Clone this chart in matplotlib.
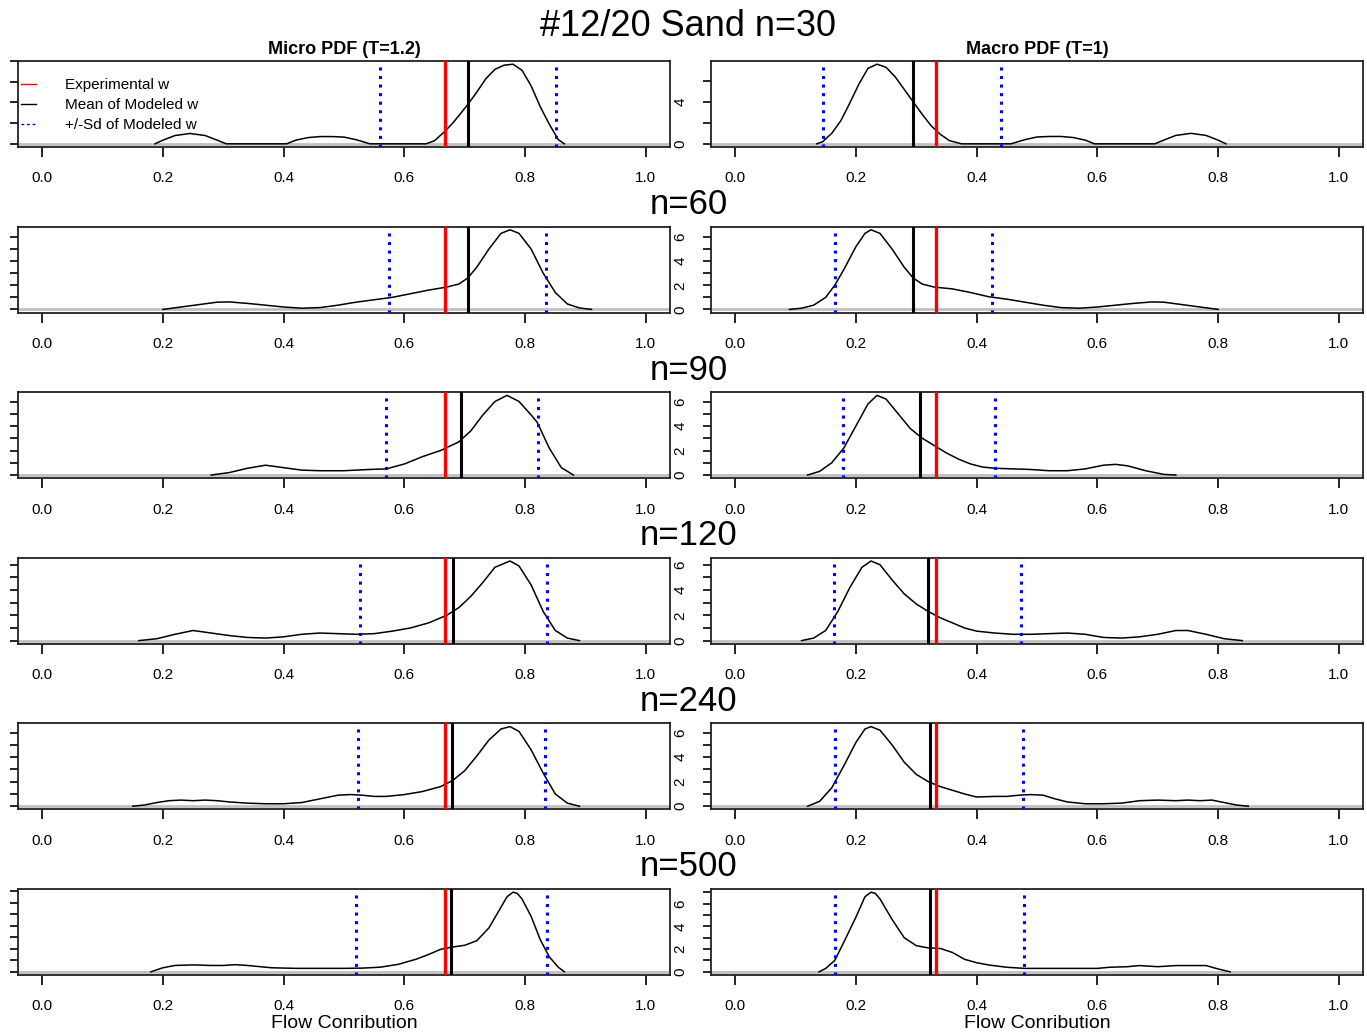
import matplotlib.pyplot as plt
from matplotlib.lines import Line2D

plt.rcParams['font.family'] = ['Liberation Sans', 'DejaVu Sans']

# ==================================
# Data
# ==================================

sample_sizes = [30, 60, 90, 120, 240, 500]

exp_micro = 0.667
exp_macro = 0.333

mean_micro = [0.706, 0.705, 0.693, 0.681, 0.679, 0.678]
sd_lo_micro = [0.560, 0.575, 0.570, 0.526, 0.523, 0.520]
sd_hi_micro = [0.851, 0.835, 0.821, 0.836, 0.833, 0.836]

mean_macro = [0.294, 0.295, 0.307, 0.320, 0.322, 0.322]
sd_lo_macro = [0.145, 0.165, 0.179, 0.164, 0.166, 0.165]
sd_hi_macro = [0.440, 0.425, 0.430, 0.474, 0.477, 0.479]

# density curves, micro (left column)
micro_x_30 = [0.187, 0.20, 0.22, 0.245, 0.27, 0.29, 0.305, 0.35, 0.405, 0.42, 0.44, 0.46, 0.48, 0.50,
              0.52, 0.543, 0.59, 0.636, 0.65, 0.667, 0.68, 0.69, 0.705, 0.72, 0.735, 0.75, 0.765,
              0.78, 0.795, 0.81, 0.825, 0.84, 0.855, 0.865]
micro_y_30 = [0.0, 0.35, 0.8, 1.0, 0.8, 0.35, 0.0, 0.0, 0.0, 0.35, 0.6, 0.7, 0.7, 0.65,
              0.4, 0.0, 0.0, 0.0, 0.3, 1.2, 2.0, 2.7, 3.8, 5.0, 6.3, 7.2, 7.6,
              7.7, 7.1, 5.6, 3.6, 1.9, 0.4, 0.0]

micro_x_60 = [0.20, 0.23, 0.26, 0.29, 0.31, 0.34, 0.37, 0.40, 0.43, 0.46, 0.49, 0.52, 0.55, 0.58,
              0.61, 0.64, 0.67, 0.69, 0.705, 0.72, 0.74, 0.76, 0.775, 0.79, 0.81, 0.83, 0.85,
              0.87, 0.89, 0.91]
micro_y_60 = [0.0, 0.2, 0.4, 0.6, 0.62, 0.5, 0.35, 0.2, 0.1, 0.15, 0.35, 0.6, 0.8, 1.0,
              1.3, 1.6, 1.85, 2.1, 2.6, 3.5, 5.0, 6.3, 6.6, 6.3, 5.0, 3.0, 1.4,
              0.45, 0.12, 0.0]

micro_x_90 = [0.28, 0.31, 0.34, 0.37, 0.40, 0.43, 0.46, 0.50, 0.54, 0.57, 0.60, 0.63, 0.66, 0.69,
              0.71, 0.73, 0.75, 0.77, 0.79, 0.81, 0.82, 0.84, 0.86, 0.88]
micro_y_90 = [0.0, 0.2, 0.55, 0.8, 0.6, 0.4, 0.35, 0.35, 0.45, 0.5, 0.9, 1.5, 2.0, 2.7,
              3.6, 4.9, 6.0, 6.5, 6.0, 4.9, 4.3, 2.2, 0.6, 0.0]

micro_x_120 = [0.16, 0.19, 0.22, 0.25, 0.28, 0.31, 0.34, 0.37, 0.40, 0.43, 0.46, 0.49, 0.52, 0.55,
               0.58, 0.61, 0.64, 0.67, 0.69, 0.71, 0.73, 0.75, 0.775, 0.79, 0.81, 0.83, 0.85,
               0.87, 0.89]
micro_y_120 = [0.0, 0.15, 0.5, 0.8, 0.6, 0.4, 0.25, 0.2, 0.3, 0.5, 0.6, 0.55, 0.5, 0.55,
               0.75, 1.0, 1.4, 2.0, 2.6, 3.5, 4.6, 5.8, 6.3, 5.9, 4.4, 2.3, 0.8,
               0.2, 0.0]

micro_x_240 = [0.15, 0.17, 0.19, 0.21, 0.23, 0.25, 0.27, 0.29, 0.31, 0.34, 0.37, 0.40, 0.43, 0.46,
               0.49, 0.51, 0.53, 0.55, 0.57, 0.60, 0.63, 0.66, 0.68, 0.70, 0.72, 0.74, 0.76,
               0.775, 0.79, 0.81, 0.83, 0.85, 0.87, 0.89]
micro_y_240 = [0.0, 0.1, 0.3, 0.45, 0.5, 0.45, 0.5, 0.45, 0.35, 0.25, 0.2, 0.2, 0.3, 0.6,
               0.9, 0.95, 0.9, 0.8, 0.8, 0.95, 1.2, 1.6, 2.1, 2.9, 4.1, 5.4, 6.3,
               6.5, 6.1, 4.6, 2.7, 1.0, 0.25, 0.0]

micro_x_500 = [0.18, 0.20, 0.22, 0.25, 0.28, 0.30, 0.32, 0.34, 0.36, 0.38, 0.42, 0.46, 0.50, 0.53,
               0.56, 0.59, 0.62, 0.64, 0.66, 0.68, 0.70, 0.72, 0.74, 0.76, 0.77, 0.78, 0.787,
               0.795, 0.81, 0.825, 0.84, 0.855, 0.865]
micro_y_500 = [0.0, 0.35, 0.55, 0.6, 0.55, 0.55, 0.62, 0.55, 0.45, 0.35, 0.3, 0.3, 0.3, 0.32,
               0.4, 0.65, 1.1, 1.5, 1.95, 2.15, 2.3, 2.7, 3.8, 5.6, 6.5, 6.9, 6.8,
               6.3, 4.8, 2.8, 1.3, 0.4, 0.0]

# density curves, macro (right column)
macro_x_30 = [0.135, 0.145, 0.16, 0.175, 0.19, 0.205, 0.22, 0.235, 0.25, 0.265, 0.28, 0.295, 0.31,
              0.325, 0.34, 0.355, 0.375, 0.41, 0.457, 0.48, 0.50, 0.52, 0.54, 0.56, 0.58, 0.595,
              0.65, 0.695, 0.71, 0.73, 0.755, 0.78, 0.80, 0.813]
macro_y_30 = [0.0, 0.2, 1.0, 2.2, 3.9, 5.7, 7.2, 7.6, 7.3, 6.4, 5.2, 4.0, 2.8,
              1.7, 0.9, 0.3, 0.0, 0.0, 0.0, 0.4, 0.65, 0.7, 0.7, 0.6, 0.35, 0.0,
              0.0, 0.0, 0.35, 0.8, 1.0, 0.8, 0.35, 0.0]

macro_x_60 = [0.09, 0.11, 0.13, 0.15, 0.165, 0.18, 0.20, 0.215, 0.225, 0.24, 0.26, 0.28, 0.295,
              0.31, 0.33, 0.36, 0.39, 0.42, 0.45, 0.48, 0.51, 0.54, 0.57, 0.60, 0.63, 0.66,
              0.69, 0.71, 0.74, 0.77, 0.80]
macro_y_60 = [0.0, 0.1, 0.35, 1.0, 2.0, 3.3, 5.2, 6.3, 6.6, 6.3, 5.0, 3.5, 2.6,
              2.1, 1.85, 1.7, 1.4, 1.05, 0.85, 0.6, 0.35, 0.15, 0.1, 0.2, 0.35, 0.5,
              0.62, 0.6, 0.4, 0.2, 0.0]

macro_x_90 = [0.12, 0.14, 0.16, 0.18, 0.20, 0.22, 0.235, 0.25, 0.27, 0.29, 0.31, 0.33, 0.35, 0.37,
              0.39, 0.41, 0.43, 0.46, 0.49, 0.52, 0.55, 0.58, 0.61, 0.63, 0.65, 0.68, 0.71, 0.73]
macro_y_90 = [0.0, 0.3, 1.0, 2.2, 4.0, 5.8, 6.5, 6.2, 5.0, 3.8, 3.0, 2.4, 1.8, 1.3,
              0.9, 0.65, 0.55, 0.5, 0.45, 0.35, 0.35, 0.5, 0.8, 0.87, 0.75, 0.35, 0.05, 0.0]

macro_x_120 = [0.11, 0.13, 0.15, 0.17, 0.19, 0.21, 0.225, 0.24, 0.26, 0.28, 0.30, 0.32, 0.34, 0.36,
               0.38, 0.40, 0.43, 0.46, 0.49, 0.52, 0.55, 0.58, 0.61, 0.64, 0.67, 0.70, 0.73,
               0.75, 0.78, 0.81, 0.84]
macro_y_120 = [0.0, 0.2, 0.8, 2.3, 4.2, 5.8, 6.3, 6.0, 4.8, 3.7, 2.9, 2.3, 1.8, 1.4,
               1.0, 0.75, 0.6, 0.5, 0.5, 0.55, 0.6, 0.5, 0.25, 0.2, 0.3, 0.5, 0.8,
               0.8, 0.5, 0.15, 0.0]

macro_x_240 = [0.12, 0.14, 0.16, 0.18, 0.20, 0.215, 0.225, 0.24, 0.26, 0.28, 0.30, 0.32, 0.34, 0.36,
               0.38, 0.40, 0.43, 0.45, 0.47, 0.49, 0.51, 0.53, 0.55, 0.58, 0.61, 0.64, 0.67,
               0.70, 0.73, 0.75, 0.77, 0.79, 0.81, 0.83, 0.85]
macro_y_240 = [0.0, 0.4, 1.5, 3.3, 5.2, 6.3, 6.5, 6.2, 5.0, 3.6, 2.6, 2.0, 1.6, 1.3,
               1.0, 0.75, 0.8, 0.8, 0.9, 0.95, 0.9, 0.6, 0.35, 0.2, 0.2, 0.25, 0.45,
               0.5, 0.45, 0.5, 0.45, 0.5, 0.3, 0.1, 0.0]

macro_x_500 = [0.139, 0.15, 0.165, 0.18, 0.20, 0.215, 0.225, 0.232, 0.24, 0.26, 0.28, 0.30, 0.32,
               0.34, 0.36, 0.38, 0.40, 0.42, 0.45, 0.48, 0.52, 0.56, 0.60, 0.62, 0.65, 0.67,
               0.70, 0.73, 0.76, 0.78, 0.80, 0.82]
macro_y_500 = [0.0, 0.3, 1.0, 2.6, 4.8, 6.6, 7.0, 6.9, 6.4, 4.6, 3.0, 2.3, 2.1,
               2.05, 1.7, 1.1, 0.8, 0.6, 0.4, 0.3, 0.3, 0.3, 0.3, 0.4, 0.45, 0.55,
               0.45, 0.55, 0.55, 0.55, 0.25, 0.0]

micro_x = [micro_x_30, micro_x_60, micro_x_90, micro_x_120, micro_x_240, micro_x_500]
micro_y = [micro_y_30, micro_y_60, micro_y_90, micro_y_120, micro_y_240, micro_y_500]
macro_x = [macro_x_30, macro_x_60, macro_x_90, macro_x_120, macro_x_240, macro_x_500]
macro_y = [macro_y_30, macro_y_60, macro_y_90, macro_y_120, macro_y_240, macro_y_500]

ytick_step = [2, 1, 1, 1, 1, 1]
xticks = [0.0, 0.2, 0.4, 0.6, 0.8, 1.0]

# ==================================
# Layout (pixels)
# ==================================

W, H = 1367, 1036
BOX_W, BOX_H = 652, 86
LEFTS = [18, 711]
ROW_TOP0, ROW_GAP = 61, 165.6

fig = plt.figure(figsize=(W / 100, H / 100), dpi=100)


def draw_panel(ax, x, y, exp_w, mean_w, lo, hi, step, show_ylabels):
    ymax = max(y)
    ax.axhline(0, color='#c0c0c0', lw=2, zorder=1)
    ax.plot(x, y, color='black', lw=1.1, zorder=3)
    ax.axvline(exp_w, color='#ff0000', lw=2.4, zorder=4)
    ax.axvline(mean_w, color='black', lw=2.2, zorder=4)
    for v in (lo, hi):
        ax.axvline(v, color='#0000ff', lw=2.2, ls=(0, (1, 1.8)), zorder=4)

    ax.set_xlim(-0.04, 1.04)
    ax.set_ylim(-0.04 * ymax, 1.04 * ymax)
    ax.set_xticks(xticks)
    ax.set_xticklabels([f"{t:.1f}" for t in xticks])

    yt = [k * step for k in range(int(1.04 * ymax / step) + 1)]
    ax.set_yticks(yt)
    if show_ylabels:
        if step == 2:
            labels = [str(int(t)) if t in (0, 4) else "" for t in yt]
        else:
            labels = [str(int(t)) if t % 2 == 0 else "" for t in yt]
        ax.set_yticklabels(labels, rotation=90, va='center')
    else:
        ax.set_yticklabels([])

    ax.tick_params(axis='x', direction='out', length=7.5, width=1.2, labelsize=11, pad=10)
    ax.tick_params(axis='y', direction='out', length=6, width=1.2, labelsize=11, pad=11)
    for s in ax.spines.values():
        s.set_linewidth(1.3)
        s.set_color('#222222')


for i, n in enumerate(sample_sizes):
    top = ROW_TOP0 + i * ROW_GAP
    ax_l = fig.add_axes([LEFTS[0] / W, 1 - (top + BOX_H) / H, BOX_W / W, BOX_H / H])
    ax_r = fig.add_axes([LEFTS[1] / W, 1 - (top + BOX_H) / H, BOX_W / W, BOX_H / H])

    draw_panel(ax_l, micro_x[i], micro_y[i], exp_micro, mean_micro[i],
               sd_lo_micro[i], sd_hi_micro[i], ytick_step[i], False)
    draw_panel(ax_r, macro_x[i], macro_y[i], exp_macro, mean_macro[i],
               sd_lo_macro[i], sd_hi_macro[i], ytick_step[i], True)

    if i == 0:
        fig.text(0.503, 1 - 27 / H, f"#12/20 Sand n={n}", ha='center', va='center', fontsize=26)
        fig.text((LEFTS[0] + BOX_W / 2) / W, 1 - 49 / H, "Micro PDF (T=1.2)",
                 ha='center', va='center', fontsize=13, fontweight='bold')
        fig.text((LEFTS[1] + BOX_W / 2) / W, 1 - 49 / H, "Macro PDF (T=1)",
                 ha='center', va='center', fontsize=13, fontweight='bold')
        handles = [Line2D([], [], color='#ff0000', lw=1),
                   Line2D([], [], color='black', lw=1),
                   Line2D([], [], color='#0000ff', lw=1, ls=(0, (2, 2)))]
        ax_l.legend(handles, ["Experimental w", "Mean of Modeled w", "+/-Sd of Modeled w"],
                    loc='upper left', bbox_to_anchor=(-0.005, 0.875), frameon=False,
                    fontsize=11, handlelength=1.0, handletextpad=1.9, labelspacing=0.4,
                    borderaxespad=0.0)
    else:
        fig.text(0.504, 1 - (top - 22) / H, f"n={n}", ha='center', va='center', fontsize=25)

    if i == len(sample_sizes) - 1:
        for left in LEFTS:
            fig.text((left + BOX_W / 2) / W, 1 - 1024 / H, "Flow Conribution",
                     ha='center', va='center', fontsize=14)

fig.savefig("out.png", dpi=100)
